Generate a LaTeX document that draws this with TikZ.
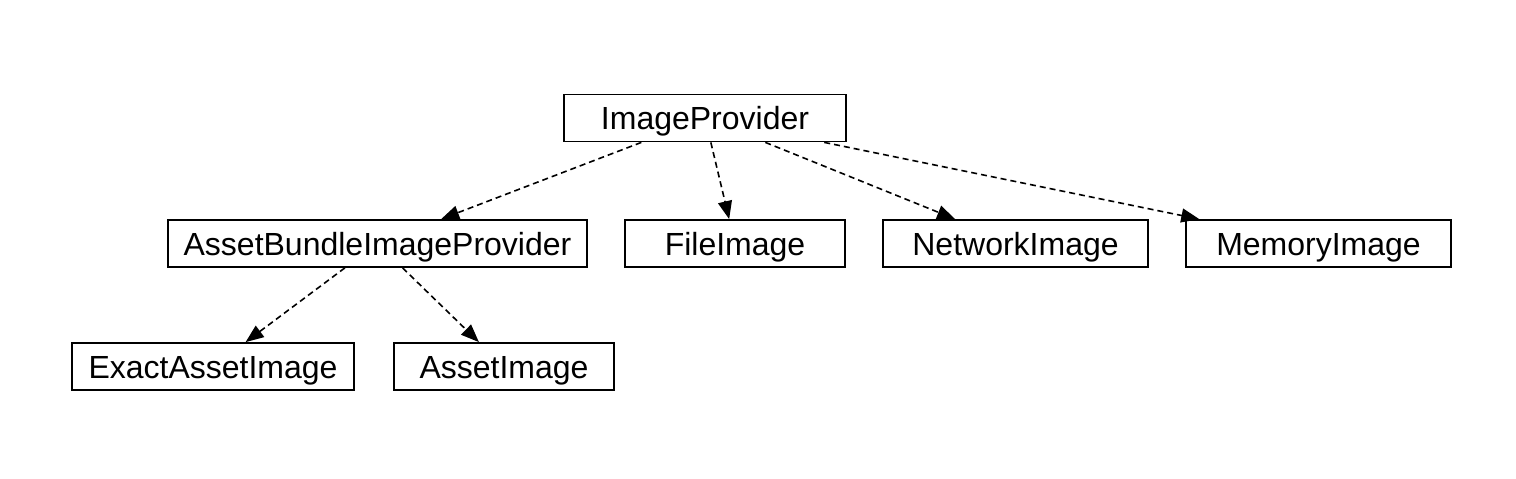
\documentclass[tikz,border=0pt]{standalone}
\usepackage{fontspec}
\setmainfont{Liberation Sans}
\usetikzlibrary{arrows.meta}

\begin{document}
\begin{tikzpicture}[x=0.5pt,y=-0.5pt,
    cls/.style={draw,line width=0.9pt,minimum height=23.5pt,inner sep=0pt,
        text height=11.5pt,text depth=0pt,font=\fontsize{16}{18}\selectfont},
    impl/.style={line width=0.8pt,dash pattern=on 3pt off 2pt,
        -{Triangle[length=9pt,width=7pt]}}]
\useasboundingbox (0,0) rectangle (1516,478);
\node[cls,minimum width=141pt] (provider) at (705,118){ImageProvider};
\node[cls,minimum width=209.5pt] (bundle) at (377.5,243.5){AssetBundleImageProvider};
\node[cls,minimum width=110pt] (file) at (735,243.5){FileImage};
\node[cls,minimum width=132.5pt] (network) at (1015.5,243.5){NetworkImage};
\node[cls,minimum width=132.5pt] (memory) at (1318.5,243.5){MemoryImage};
\node[cls,minimum width=141pt] (exact) at (213,366.5){ExactAssetImage};
\node[cls,minimum width=110pt] (asset) at (504,366.5){AssetImage};
% provider -> subclasses
\foreach \sub in {bundle,file,network,memory}
    \draw[impl] (provider) -- (\sub);
\foreach \sub in {exact,asset}
    \draw[impl] (bundle) -- (\sub);
\end{tikzpicture}
\end{document}
